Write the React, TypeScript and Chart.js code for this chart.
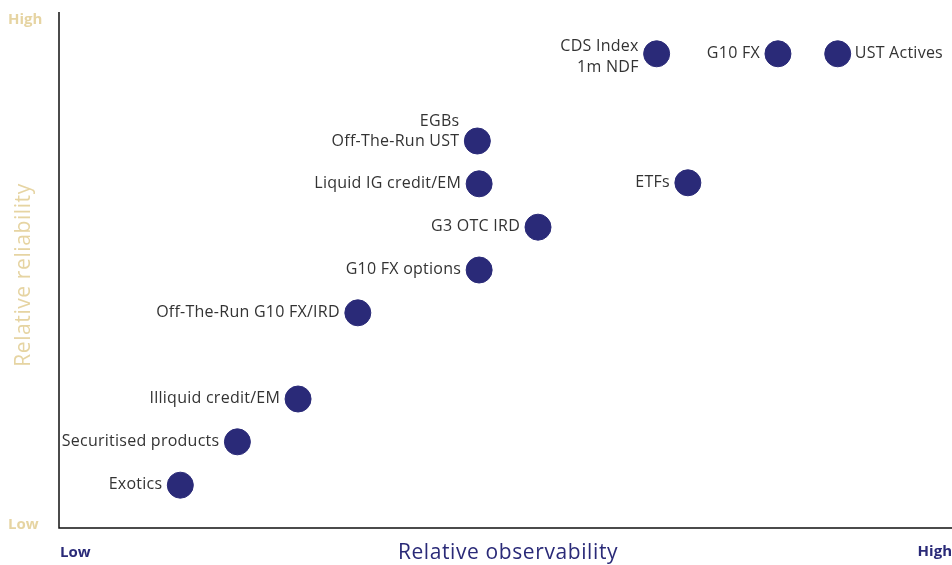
import React, { useEffect, useRef } from "react";
import { Chart, registerables } from "chart.js";

Chart.register(...registerables);

const instruments: string[][] = [
  ["Exotics"],
  ["Securitised products"],
  ["Illiquid credit/EM"],
  ["Off-The-Run G10 FX/IRD"],
  ["G10 FX options"],
  ["G3 OTC IRD"],
  ["Liquid IG credit/EM"],
  ["EGBs", "Off-The-Run UST"],
  ["ETFs"],
  ["CDS Index", "1m NDF"],
  ["G10 FX"],
  ["UST Actives"],
];
const observability: number[] = [13.6, 20.0, 26.8, 33.5, 47.1, 53.7, 47.1, 46.9, 70.5, 67.0, 80.6, 87.3];
const reliability: number[] = [8.3, 16.7, 25.0, 41.7, 50.0, 58.3, 66.7, 75.0, 66.9, 91.9, 91.9, 91.9];
const labelOnRight: boolean[] = [false, false, false, false, false, false, false, false, false, false, false, true];

const yTickLabels = ["Low", "High"];
const xTickLabels = ["Low", "High"];
const xTitle = "Relative observability";
const yTitle = "Relative reliability";

const NAVY = "#2a2a78";
const TAN = "#e6d4a2";
const FONT = "'Open Sans', 'Noto Sans', sans-serif";

export default function App() {
  const ref = useRef<HTMLCanvasElement>(null);
  useEffect(() => {
    if (!ref.current) return;
    const labelsPlugin = {
      id: "customDraw",
      afterDatasetsDraw(chart: any) {
        const ctx = chart.ctx as CanvasRenderingContext2D;
        const area = chart.chartArea;
        const xs = chart.scales.x;
        const ys = chart.scales.y;
        ctx.save();
        // axes
        ctx.strokeStyle = "#111";
        ctx.lineWidth = 1.5;
        ctx.beginPath();
        ctx.moveTo(area.left, area.top);
        ctx.lineTo(area.left, area.bottom);
        ctx.lineTo(area.right + 1, area.bottom);
        ctx.stroke();
        // point labels
        ctx.font = `16px ${FONT}`;
        (ctx as any).letterSpacing = "0.25px";
        ctx.fillStyle = "#333";
        ctx.textBaseline = "alphabetic";
        instruments.forEach((lines, i) => {
          const px = xs.getPixelForValue(observability[i]);
          const py = ys.getPixelForValue(reliability[i]);
          const right = labelOnRight[i];
          ctx.textAlign = right ? "left" : "right";
          const tx = right ? px + 17 : px - 18;
          if (lines.length === 1) {
            ctx.fillText(lines[0], tx, py + 4);
          } else if (i === 9) {
            ctx.fillText(lines[0], tx, py - 3);
            ctx.fillText(lines[1], tx, py + 18);
          } else {
            ctx.fillText(lines[0], tx, py - 15);
            ctx.fillText(lines[1], tx, py + 5);
          }
        });
        // y tick labels
        ctx.font = `bold 15px ${FONT}`;
        (ctx as any).letterSpacing = "0px";
        ctx.fillStyle = TAN;
        ctx.textAlign = "left";
        ctx.fillText(yTickLabels[1], 8, 24);
        ctx.fillText(yTickLabels[0], 8, 529);
        // x tick labels
        ctx.fillStyle = NAVY;
        ctx.fillText(xTickLabels[0], 60, 557);
        ctx.textAlign = "right";
        ctx.fillText(xTickLabels[1], 952, 556);
        // titles
        ctx.font = `21px ${FONT}`;
        (ctx as any).letterSpacing = "0.6px";
        ctx.textAlign = "center";
        ctx.fillStyle = NAVY;
        ctx.fillText(xTitle, 508, 559);
        ctx.save();
        ctx.translate(24, 275);
        ctx.rotate(-Math.PI / 2);
        ctx.textBaseline = "middle";
        ctx.fillStyle = TAN;
        ctx.fillText(yTitle, 0, 0);
        ctx.restore();
        ctx.restore();
      },
    };
    const chart = new Chart(ref.current, {
      type: "scatter",
      data: {
        datasets: [
          {
            data: observability.map((x, i) => ({ x, y: reliability[i] })),
            backgroundColor: NAVY,
            borderColor: NAVY,
            pointRadius: 13,
            pointHoverRadius: 13,
            clip: false as any,
          },
        ],
      },
      options: {
        responsive: false,
        animation: false,
        layout: { autoPadding: false, padding: { left: 59, right: 1, top: 12, bottom: 37 } },
        plugins: { legend: { display: false }, tooltip: { enabled: false } },
        scales: {
          x: { type: "linear", min: 0, max: 100, display: false },
          y: { type: "linear", min: 0, max: 100, display: false },
        },
      },
      plugins: [labelsPlugin],
    });
    return () => chart.destroy();
  }, []);
  return (
    <div style={{ position: "fixed", left: 0, top: 0, width: 952, height: 565, background: "#fff" }}>
      <canvas ref={ref} width={952} height={565} style={{ width: 952, height: 565 }} />
    </div>
  );
}
